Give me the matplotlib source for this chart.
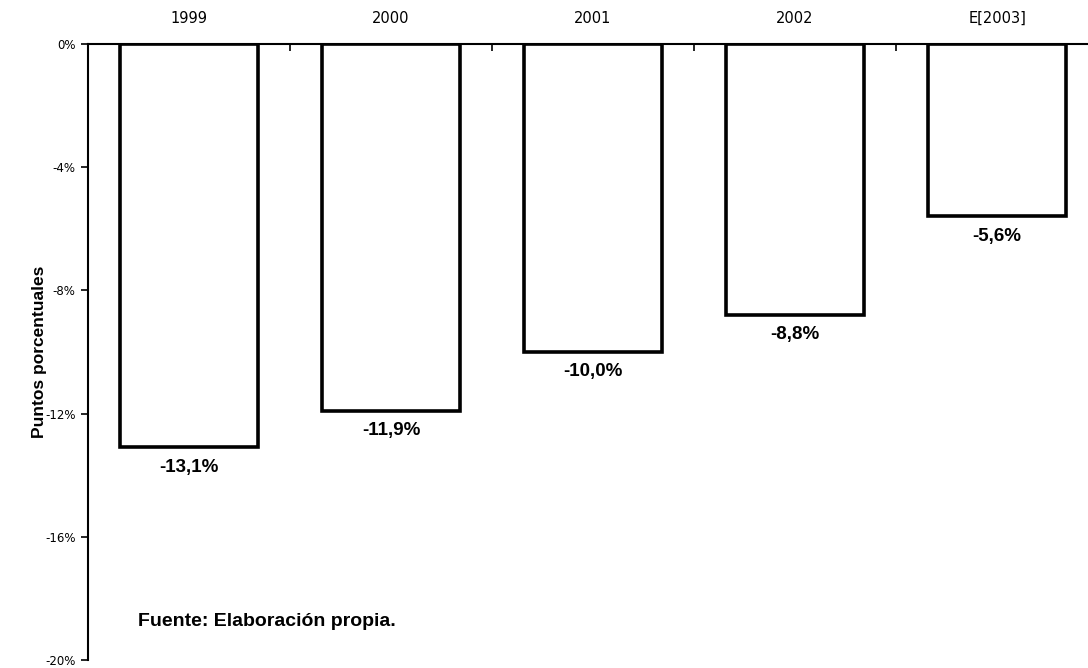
import matplotlib
matplotlib.use("Agg")
import matplotlib.pyplot as plt
from matplotlib.ticker import FuncFormatter

years = ["1999", "2000", "2001", "2002", "E[2003]"]
values = [-13.1, -11.9, -10.0, -8.8, -5.6]
y_ticks = [0, -4, -8, -12, -16, -20]


def pct(v, pos=None):
    return f"{v:.0f}%"


fig = plt.figure(figsize=(10.88, 6.68), dpi=100)
ax = fig.add_axes([88 / 1088, 8 / 668, 1 - 88 / 1088, 616 / 668])

x = list(range(len(years)))
ax.bar(x, values, width=0.68, color="white", edgecolor="black", linewidth=2.6)

for xi, v in zip(x, values):
    label = f"{v:.1f}%".replace(".", ",")
    ax.annotate(label, (xi, v), xytext=(0, -8), textcoords="offset points",
                ha="center", va="top", fontsize=13.5, fontweight="bold",
                family="Liberation Sans")

ax.set_xlim(-0.5, 4.45)
ax.set_ylim(-20, 0)
ax.set_yticks(y_ticks)
ax.yaxis.set_major_formatter(FuncFormatter(pct))
ax.tick_params(axis="y", direction="out", length=5, width=1.2, labelsize=8.5, pad=4)

ax.xaxis.tick_top()
ax.set_xticks(x)
ax.set_xticklabels(years, family="DejaVu Sans")
ax.set_xticks([0.5, 1.5, 2.5, 3.5], minor=True)
ax.tick_params(axis="x", which="major", length=0, labelsize=10.5, pad=13)
ax.tick_params(axis="x", which="minor", direction="in", length=5, width=1.2, top=True, bottom=False)

for s in ["right", "bottom"]:
    ax.spines[s].set_visible(False)
ax.spines["top"].set_linewidth(1.5)
ax.spines["left"].set_linewidth(1.5)

fig.text(40 / 1088, 1 - 352 / 668, "Puntos porcentuales", rotation=90, ha="center", va="center",
         fontsize=12.5, fontweight="bold", family="Liberation Sans")
fig.text(138 / 1088, 1 - 622 / 668, "Fuente: Elaboración propia.", ha="left", va="center",
         fontsize=14, fontweight="bold", family="Liberation Sans")

fig.savefig("out.png", dpi=100)
